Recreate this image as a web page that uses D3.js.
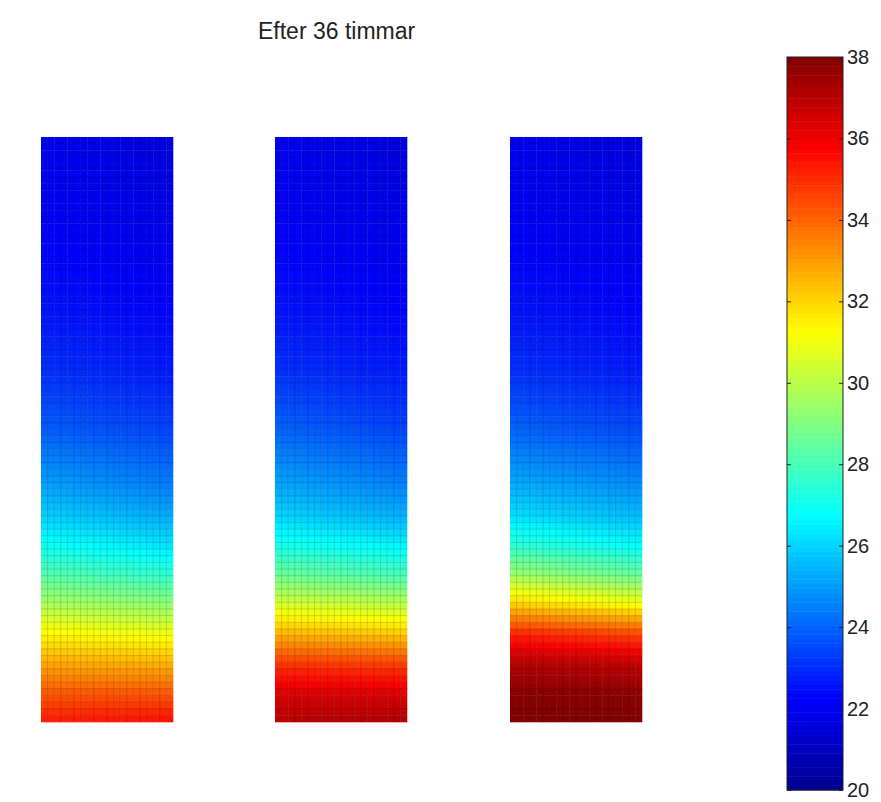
<!DOCTYPE html>
<html>
<head>
<meta charset="utf-8">
<script src="https://cdn.jsdelivr.net/npm/d3@7"></script>
<style>
  body { margin: 0; background: #fff; }
  text { font-family: "Liberation Sans", Arial, sans-serif; }
</style>
</head>
<body>
<div id="chart"></div>
<script>
// relative height (0 = top, 1 = bottom) of the sampled rows
const rowPos = [0, 0.1, 0.2, 0.3, 0.4, 0.5, 0.6, 0.65, 0.7, 0.75, 0.8, 0.85, 0.9, 0.95, 1.0];

// temperature read at left and right edge of each panel
const p1Left  = [22.0, 22.1, 22.3, 22.6, 23.1, 23.9, 25.2, 26.0, 27.0, 28.3, 29.8, 31.4, 32.8, 34.2, 35.3];
const p1Right = [21.6, 21.8, 22.0, 22.3, 22.7, 23.4, 24.5, 25.3, 26.3, 27.6, 29.3, 31.0, 32.6, 34.2, 35.6];
const p2Left  = [22.0, 22.1, 22.3, 22.6, 23.1, 24.0, 25.3, 26.1, 27.2, 28.7, 30.6, 32.6, 34.8, 36.3, 37.0];
const p2Right = [21.6, 21.8, 22.0, 22.3, 22.7, 23.4, 24.6, 25.4, 26.6, 28.0, 30.1, 32.2, 34.6, 36.3, 37.2];
const p3Left  = [22.0, 22.1, 22.3, 22.6, 23.1, 24.0, 25.4, 26.3, 27.6, 29.6, 32.2, 35.2, 37.0, 37.8, 38.0];
const p3Right = [21.6, 21.8, 22.0, 22.3, 22.7, 23.5, 24.8, 25.6, 26.8, 28.6, 31.2, 34.5, 36.8, 37.7, 38.0];

const panels = [[p1Left, p1Right], [p2Left, p2Right], [p3Left, p3Right]];
const cbTicks = [20, 22, 24, 26, 28, 30, 32, 34, 36, 38];
const title = "Efter 36 timmar";

const nCols = 20, nRows = 88;
const W = 881, H = 802;
const panelX = [41, 275, 510];
const panelW = 132;
const plotTop = 137, plotBottom = 722;

const svg = d3.select("#chart").append("svg")
  .attr("width", W).attr("height", H);

// jet colormap, 20..38
const jet = d3.scaleLinear()
  .domain([20, 22.25, 26.75, 31.25, 35.75, 38])
  .range(["#00008f", "#0000ff", "#00ffff", "#ffff00", "#ff0000", "#800000"])
  .clamp(true);

const y = d3.scaleLinear().domain([0, 1]).range([plotTop, plotBottom]);

panels.forEach(function(p, k) {
  const x = d3.scaleLinear().domain([0, 1]).range([panelX[k], panelX[k] + panelW]);
  const leftAt = d3.scaleLinear().domain(rowPos).range(p[0]);
  const rightAt = d3.scaleLinear().domain(rowPos).range(p[1]);
  const cells = [];
  for (let r = 0; r < nRows; r++) {
    for (let c = 0; c < nCols; c++) {
      const fy = (r + 0.5) / nRows, fx = (c + 0.5) / nCols;
      const v = d3.interpolateNumber(leftAt(fy), rightAt(fy))(fx);
      cells.push({r: r, c: c, v: v});
    }
  }
  const g = svg.append("g");
  g.selectAll("rect")
    .data(cells)
    .enter()
    .append("rect")
      .attr("x", d => x(d.c / nCols))
      .attr("y", d => y(d.r / nRows))
      .attr("width", panelW / nCols + 0.3)
      .attr("height", (plotBottom - plotTop) / nRows + 0.3)
      .attr("fill", d => jet(d.v));

  // mesh lines
  const mesh = g.append("g")
    .attr("stroke", "#000")
    .attr("stroke-opacity", 0.15)
    .attr("stroke-width", 1);
  mesh.selectAll(".v")
    .data(d3.range(1, nCols))
    .enter().append("line")
      .attr("x1", d => x(d / nCols)).attr("x2", d => x(d / nCols))
      .attr("y1", plotTop).attr("y2", plotBottom);
  mesh.selectAll(".h")
    .data(d3.range(1, nRows))
    .enter().append("line")
      .attr("y1", d => y(d / nRows)).attr("y2", d => y(d / nRows))
      .attr("x1", panelX[k]).attr("x2", panelX[k] + panelW);
});

// title
svg.append("text")
  .attr("x", 258).attr("y", 39)
  .style("font-size", "23px")
  .style("fill", "#222")
  .text(title);

// colorbar
const cbX = 787, cbW = 56;
const cbY = d3.scaleLinear().domain([20, 38]).range([790, 57]);
const nSteps = 160;
svg.append("g").selectAll("rect")
  .data(d3.range(nSteps))
  .enter()
  .append("rect")
    .attr("x", cbX)
    .attr("y", d => cbY(20 + (d + 1) * 18 / nSteps))
    .attr("width", cbW)
    .attr("height", cbY(20) - cbY(20 + 18 / nSteps) + 0.5)
    .attr("fill", d => jet(20 + (d + 0.5) * 18 / nSteps));

svg.append("rect")
  .attr("x", cbX).attr("y", cbY(38))
  .attr("width", cbW).attr("height", cbY(20) - cbY(38))
  .attr("fill", "none").attr("stroke", "#222").attr("stroke-width", 1);

const axR = svg.append("g")
  .attr("transform", `translate(${cbX + cbW},0)`)
  .call(d3.axisLeft(cbY).tickValues(cbTicks).tickSize(4).tickFormat(""));
axR.select(".domain").remove();
axR.selectAll("line").attr("stroke", "#222");

const axL = svg.append("g")
  .attr("transform", `translate(${cbX},0)`)
  .call(d3.axisRight(cbY).tickValues(cbTicks).tickSize(4).tickFormat(""));
axL.select(".domain").remove();
axL.selectAll("line").attr("stroke", "#222");

svg.append("g").selectAll("text")
  .data(cbTicks)
  .enter()
  .append("text")
    .attr("x", cbX + cbW + 4)
    .attr("y", d => cbY(d) + 7)
    .style("font-size", "20px")
    .style("fill", "#222")
    .text(d => d);
</script>
</body>
</html>
